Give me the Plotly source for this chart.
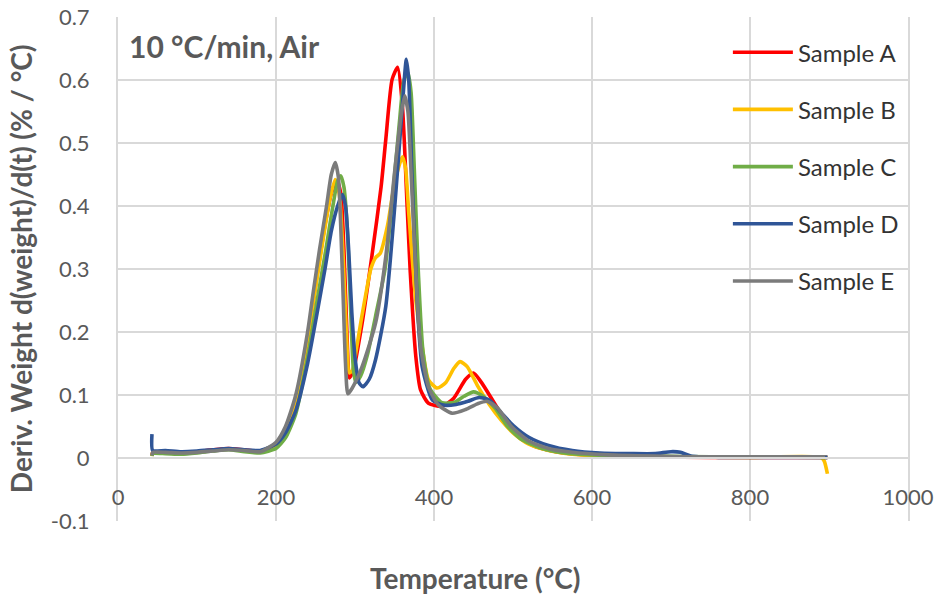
import plotly.graph_objects as go

names = ["Sample A", "Sample B", "Sample C", "Sample D", "Sample E"]
colors = ["#FF0000", "#FFC000", "#70AD47", "#2F5597", "#7B7B7B"]

a_x = [43, 44, 60, 80, 100, 120, 140, 160, 180, 200, 212, 225, 240, 252, 262, 270, 277, 282, 286, 290, 293, 298, 309, 322, 333, 339, 347, 354, 360, 366, 370, 377, 383, 393, 410, 425, 440, 450, 460, 475, 490, 505, 525, 550, 580, 620, 680, 750, 820, 898]
a_y = [0.004, 0.009, 0.009, 0.008, 0.010, 0.013, 0.015, 0.013, 0.011, 0.021, 0.045, 0.09, 0.19, 0.29, 0.37, 0.42, 0.44, 0.42, 0.33, 0.19, 0.127, 0.14, 0.214, 0.326, 0.43, 0.506, 0.601, 0.62, 0.559, 0.40, 0.294, 0.161, 0.108, 0.087, 0.082, 0.095, 0.125, 0.135, 0.12, 0.09, 0.06, 0.038, 0.02, 0.011, 0.006, 0.004, 0.002, 0.001, 0.001, 0.001]

b_x = [43, 44, 60, 80, 100, 120, 140, 160, 180, 200, 212, 225, 240, 250, 260, 268, 275, 280, 285, 289, 293, 297, 301, 308, 314, 320, 326, 332, 341, 351, 360, 364, 368, 377, 385, 393, 404, 415, 425, 433, 442, 455, 470, 485, 500, 520, 545, 575, 620, 700, 800, 890, 894, 898]
b_y = [0.003, 0.008, 0.008, 0.007, 0.009, 0.012, 0.014, 0.012, 0.010, 0.020, 0.045, 0.09, 0.19, 0.27, 0.35, 0.41, 0.442, 0.42, 0.32, 0.20, 0.135, 0.14, 0.167, 0.22, 0.262, 0.30, 0.318, 0.325, 0.368, 0.442, 0.478, 0.46, 0.39, 0.25, 0.177, 0.124, 0.111, 0.12, 0.142, 0.153, 0.145, 0.115, 0.085, 0.06, 0.04, 0.022, 0.012, 0.006, 0.003, 0.002, 0.001, 0.001, -0.005, -0.025]

c_x = [43, 44, 60, 80, 100, 120, 140, 160, 180, 200, 212, 225, 240, 252, 263, 272, 278, 282, 286, 290, 294, 298, 301, 307, 316, 326, 338, 348, 356, 362, 367, 371, 375, 380, 386, 395, 410, 425, 438, 450, 462, 478, 492, 510, 535, 565, 600, 680, 750, 898]
c_y = [0.003, 0.007, 0.007, 0.006, 0.008, 0.011, 0.013, 0.010, 0.008, 0.015, 0.032, 0.07, 0.16, 0.25, 0.33, 0.40, 0.44, 0.448, 0.43, 0.37, 0.25, 0.14, 0.12, 0.13, 0.165, 0.225, 0.30, 0.42, 0.53, 0.60, 0.612, 0.58, 0.46, 0.30, 0.17, 0.11, 0.088, 0.088, 0.098, 0.105, 0.098, 0.078, 0.052, 0.03, 0.016, 0.008, 0.005, 0.003, 0.002, 0.001]

d_x = [43, 44, 60, 80, 100, 120, 140, 160, 180, 200, 212, 225, 240, 252, 262, 270, 278, 284, 288, 292, 296, 300, 305, 310, 318, 326, 339, 351, 360, 365, 368, 372, 379, 385, 398, 412, 428, 443, 457, 470, 485, 500, 520, 545, 575, 610, 650, 680, 700, 712, 725, 760, 898]
d_y = [0.038, 0.012, 0.012, 0.010, 0.011, 0.013, 0.015, 0.013, 0.012, 0.022, 0.04, 0.075, 0.15, 0.23, 0.30, 0.36, 0.40, 0.418, 0.40, 0.33, 0.23, 0.16, 0.12, 0.113, 0.125, 0.156, 0.241, 0.41, 0.56, 0.633, 0.60, 0.453, 0.241, 0.145, 0.092, 0.084, 0.085, 0.09, 0.096, 0.092, 0.072, 0.052, 0.033, 0.02, 0.012, 0.008, 0.007, 0.007, 0.01, 0.009, 0.003, 0.001, 0.001]

e_x = [43, 44, 60, 80, 100, 120, 140, 160, 180, 200, 212, 225, 240, 247, 255, 264, 270, 275, 279, 284, 288, 291, 296, 309, 326, 339, 351, 359, 363, 367, 371, 377, 383, 393, 405, 423, 440, 455, 467, 480, 498, 520, 545, 575, 620, 680, 730, 800, 895]
e_y = [0.004, 0.009, 0.009, 0.008, 0.009, 0.011, 0.013, 0.012, 0.010, 0.025, 0.05, 0.10, 0.20, 0.262, 0.33, 0.40, 0.45, 0.469, 0.445, 0.294, 0.15, 0.102, 0.11, 0.145, 0.214, 0.32, 0.464, 0.55, 0.575, 0.55, 0.453, 0.294, 0.177, 0.113, 0.085, 0.071, 0.077, 0.086, 0.09, 0.08, 0.05, 0.027, 0.015, 0.009, 0.005, 0.003, 0.002, 0.002, 0.002]

series_x = [a_x, b_x, c_x, d_x, e_x]
series_y = [a_y, b_y, c_y, d_y, e_y]

x_ticks = [0, 200, 400, 600, 800, 1000]
y_ticks = [-0.1, 0, 0.1, 0.2, 0.3, 0.4, 0.5, 0.6, 0.7]
y_tick_text = ["-0.1", "0", "0.1", "0.2", "0.3", "0.4", "0.5", "0.6", "0.7"]

FONT = "Lato"
GRID = "#D9D9D9"
TXT = "#595959"

fig = go.Figure()
for name, col, xs, ys in zip(names, colors, series_x, series_y):
    fig.add_trace(go.Scatter(
        x=xs, y=ys, name=name, mode="lines", legendgroup=name,
        line=dict(color=col, width=3.6, shape="spline", smoothing=0.6),
    ))

fig.update_layout(
    width=938, height=596,
    margin=dict(l=118, r=30, t=17, b=75, autoexpand=False),
    paper_bgcolor="white", plot_bgcolor="white",
    font=dict(family=FONT, color=TXT),
    showlegend=True,
    legend=dict(
        x=0.772, y=0.974, xanchor="left", yanchor="top",
        font=dict(family=FONT, size=24, color="#333333"),
        bgcolor="rgba(0,0,0,0)", tracegroupgap=23, itemwidth=60,
        traceorder="grouped",
    ),
    xaxis=dict(
        range=[0, 1000], tickvals=x_ticks, ticktext=[str(v) for v in x_ticks],
        showgrid=True, gridcolor=GRID, gridwidth=2, zeroline=False,
        anchor="free", position=0.125, showline=True, linecolor=GRID, linewidth=2,
        ticks="", ticklabelstandoff=20, automargin=False, ticklabeloverflow="allow",
        tickfont=dict(family=FONT, size=22, color=TXT),
    ),
    yaxis=dict(
        range=[-0.1, 0.7], tickvals=y_ticks, ticktext=y_tick_text,
        showgrid=True, gridcolor=GRID, gridwidth=2, zeroline=False,
        showline=True, linecolor=GRID, linewidth=2, mirror=True,
        ticks="", ticklabelstandoff=22, automargin=False, ticklabeloverflow="allow",
        tickfont=dict(family=FONT, size=22, color=TXT),
    ),
    annotations=[
        dict(text="<b>10 °C/min, Air</b>", x=0.0114, y=0.9425, xref="paper", yref="paper",
             xanchor="left", yanchor="middle", showarrow=False,
             font=dict(family=FONT, size=30, color=TXT)),
        dict(text="<b>Temperature (°C)</b>", x=0.453, y=-0.113, xref="paper", yref="paper",
             xanchor="center", yanchor="middle", showarrow=False,
             font=dict(family=FONT, size=28, color=TXT)),
        dict(text="<b>Deriv. Weight d(weight)/d(t) (% / °C)</b>", x=-0.1225, y=0.5,
             xref="paper", yref="paper", xanchor="center", yanchor="middle",
             textangle=-90, showarrow=False,
             font=dict(family=FONT, size=28, color=TXT)),
    ],
)

fig.write_html(
    "out.html",
    config={"displayModeBar": False},
    post_script="document.body.style.margin='0';document.body.style.overflow='hidden';",
)
